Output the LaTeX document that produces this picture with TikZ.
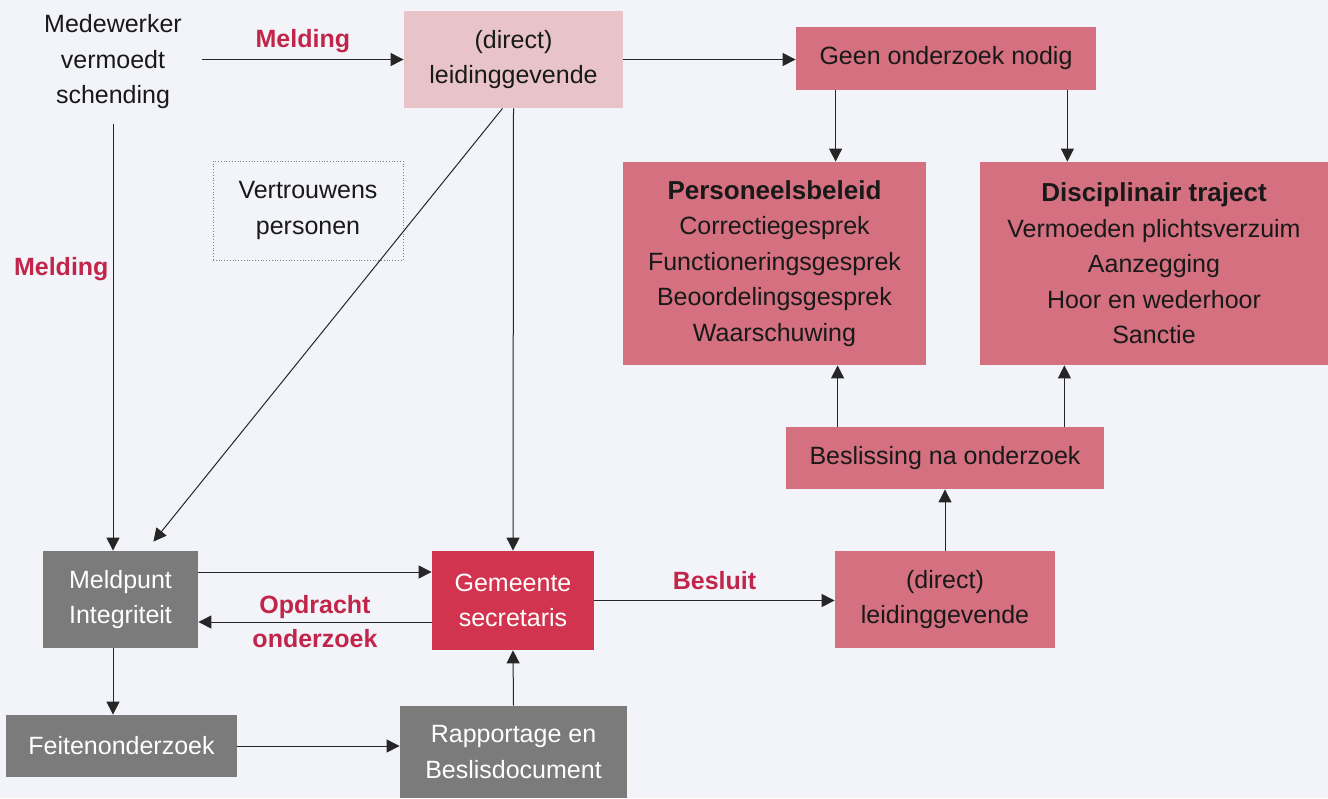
\documentclass[tikz,border=0pt]{standalone}
\usepackage{fontspec}
\setmainfont{Liberation Sans}
\usepackage{xcolor}
\usetikzlibrary{arrows.meta}

\definecolor{achter}{HTML}{F3F4F9}
\definecolor{roze}{HTML}{D4707F}
\definecolor{lichtroze}{HTML}{E8C3C8}
\definecolor{rood}{HTML}{D2334E}
\definecolor{grijs}{HTML}{7B7B7B}
\definecolor{labelrood}{HTML}{C1264A}

\newcommand{\kop}[1]{{\fontsize{13}{17.75}\selectfont\bfseries #1}}

\begin{document}
\begin{tikzpicture}[x=0.5pt, y=-0.5pt,
	font=\fontsize{12.5}{17.75}\selectfont,
	box/.style={inner sep=0pt, align=center, text=black!90},
	pijl/.style={-{Triangle[length=6.5pt,width=6.5pt]}, black!85, line width=0.5pt},
	lbl/.style={text=labelrood, inner sep=0pt, font=\fontsize{12.5}{17}\selectfont\bfseries, align=center}]
	\fill[achter] (0,0) rectangle (1328,798);
	\useasboundingbox (0,0) rectangle (1328,798);

	% bovenste rij
	\node[box, align=center] (mw) at (113,62) {Medewerker\\vermoedt\\schending};
	\node[box, fill=lichtroze, minimum width=109.5pt, minimum height=48.5pt] (ld1) at (513.5,59.5) {(direct)\\leidinggevende};
	\node[box, fill=roze, minimum width=150pt, minimum height=31.5pt] (geen) at (946,58.5) {Geen onderzoek nodig};
	\node[box, draw=gray, densely dotted, minimum width=95pt, minimum height=49.5pt] (vp) at (308,210.5) {Vertrouwens\\personen};

	% rechter blokken
	\node[box, fill=roze, minimum width=151.5pt, minimum height=101.5pt] (pers) at (774.5,263.5)
		{\kop{Personeelsbeleid}\\Correctiegesprek\\Functioneringsgesprek\\Beoordelingsgesprek\\Waarschuwing};
	\node[box, fill=roze, minimum width=174pt, minimum height=101.5pt] (disc) at (1154,263.5)
		{\kop{Disciplinair traject}\\Vermoeden plichtsverzuim\\Aanzegging\\Hoor en wederhoor\\Sanctie};
	\node[box, fill=roze, minimum width=159pt, minimum height=31pt] (bes) at (945,458) {Beslissing na onderzoek};
	\node[box, fill=roze, minimum width=110pt, minimum height=48.5pt] (ld2) at (945,599.5) {(direct)\\leidinggevende};

	% onderste rij
	\node[box, fill=grijs, text=white, minimum width=77.5pt, minimum height=48.5pt] (mp) at (120.5,599.5) {Meldpunt\\Integriteit};
	\node[box, fill=rood, text=white, minimum width=81pt, minimum height=49.5pt] (gs) at (513,600.5) {Gemeente\\secretaris};
	\node[box, fill=grijs, text=white, minimum width=115.5pt, minimum height=31pt] (fo) at (121.5,746) {Feitenonderzoek};
	\node[box, fill=grijs, text=white, minimum width=113.5pt, minimum height=46pt] (rap) at (513.5,752) {Rapportage en\\Beslisdocument};

	% pijlen
	\path (mw.east |- ld1.west) coordinate (m0);
	\draw[pijl] ([xshift=10pt]m0) -- (ld1.west)
		node[lbl, midway, above=3pt] {Melding};
	\draw[pijl] (ld1.east) -- (geen.west |- ld1.east);
	\draw[pijl] ([xshift=20pt]geen.south west) coordinate (g1) -- (g1 |- pers.north);
	\draw[pijl] ([xshift=-14.5pt]geen.south east) coordinate (g2) -- (g2 |- disc.north);
	\draw[pijl] ([xshift=26pt]bes.north west) coordinate (b1) -- (b1 |- pers.south);
	\draw[pijl] ([xshift=-20pt]bes.north east) coordinate (b2) -- (b2 |- disc.south);
	\draw[pijl] (ld2.north) -- (ld2.north |- bes.south);
	\draw[pijl] ([yshift=-7pt]mw.south) coordinate (m1) -- (m1 |- mp.north)
		node[lbl, pos=0.34, left=2pt] {Melding};
	\draw[pijl] ([xshift=-5.5pt]ld1.south) -- ([xshift=-22.5pt, yshift=4.5pt]mp.north east);
	\draw[pijl] (ld1.south) -- (gs.north);
	\draw[pijl] ([yshift=13.75pt]mp.east) coordinate (p1) -- (p1 -| gs.west);
	\draw[pijl] ([yshift=-10.75pt]gs.west) coordinate (p2) -- (p2 -| mp.east)
		node[lbl, midway] {Opdracht\\onderzoek};
	\draw[pijl] (gs.east) -- (gs.east -| ld2.west)
		node[lbl, midway, above=5pt] {Besluit};
	\draw[pijl] ([xshift=-3.75pt]mp.south) coordinate (p3) -- (p3 |- fo.north);
	\draw[pijl] (fo.east) -- (fo.east -| rap.west);
	\draw[pijl] (rap.north) -- (gs.south);
\end{tikzpicture}
\end{document}
